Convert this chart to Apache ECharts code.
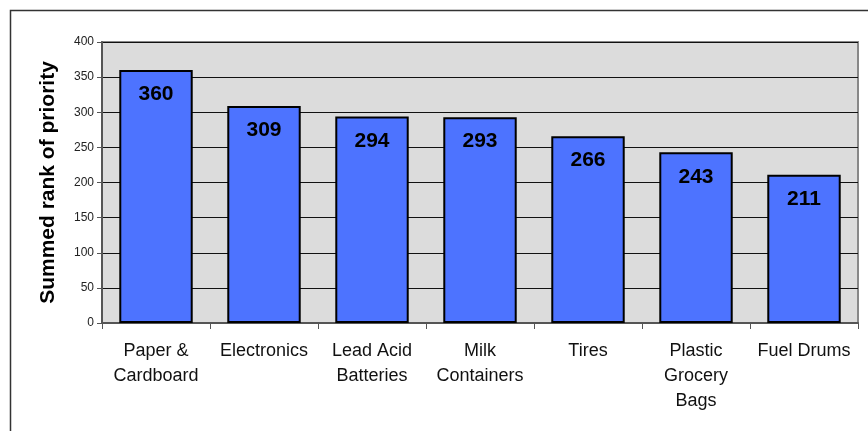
<!DOCTYPE html>
<html>
<head>
<meta charset="utf-8">
<script src="https://cdn.jsdelivr.net/npm/echarts@6/dist/echarts.min.js"></script>
<style>
html,body{margin:0;padding:0;background:#fff;}
#chart{width:868px;height:431px;}
</style>
</head>
<body>
<div id="chart"></div>
<script>
// Recycling material categories and their summed priority rank
const categories = ['Paper &\nCardboard', 'Electronics', 'Lead Acid\nBatteries', 'Milk\nContainers', 'Tires', 'Plastic\nGrocery\nBags', 'Fuel Drums'];
const summedRank = [360, 309, 294, 293, 266, 243, 211];
const yTicks = { min: 0, max: 400, interval: 50 };

const FONT = 'Liberation Sans, Arial, sans-serif';
const chart = echarts.init(document.getElementById('chart'), null, { renderer: 'canvas' });
chart.setOption({
  animation: false,
  backgroundColor: '#ffffff',
  graphic: [{
    type: 'rect',
    shape: { x: 10.5, y: 10.5, width: 900, height: 500 },
    style: { fill: 'none', stroke: '#333', lineWidth: 1.5 },
    z: -1
  }],
  grid: {
    left: 102, right: 10, top: 42, bottom: 108,
    show: true,
    backgroundColor: '#dcdcdc',
    borderColor: '#888',
    borderWidth: 2
  },
  xAxis: {
    type: 'category',
    data: categories,
    axisLine: { show: true, lineStyle: { color: '#555', width: 2 } },
    axisTick: { show: true, alignWithLabel: false, length: 6, lineStyle: { color: '#555', width: 1 } },
    axisLabel: {
      interval: 0, color: '#111', fontFamily: FONT,
      fontSize: 18, lineHeight: 25, margin: 16
    }
  },
  yAxis: {
    type: 'value',
    min: yTicks.min, max: yTicks.max, interval: yTicks.interval,
    name: 'Summed rank of priority',
    nameLocation: 'middle',
    nameGap: 43,
    nameTextStyle: { fontFamily: FONT, fontSize: 21, fontWeight: 'bold', color: '#000' },
    axisLine: { show: true, lineStyle: { color: '#555', width: 2 } },
    axisTick: { show: true, length: 5, lineStyle: { color: '#555' } },
    axisLabel: { color: '#222', fontFamily: FONT, fontSize: 12, margin: 8 },
    splitLine: { show: true, lineStyle: { color: '#111', width: 1 } }
  },
  series: [{
    type: 'bar',
    data: summedRank,
    barCategoryGap: '32%',
    itemStyle: { color: '#4d73ff', borderColor: '#000', borderWidth: 2 },
    label: {
      show: true, position: 'insideTop', distance: 14,
      fontFamily: FONT, fontSize: 21, fontWeight: 'bold', color: '#000'
    }
  }]
});
</script>
</body>
</html>
